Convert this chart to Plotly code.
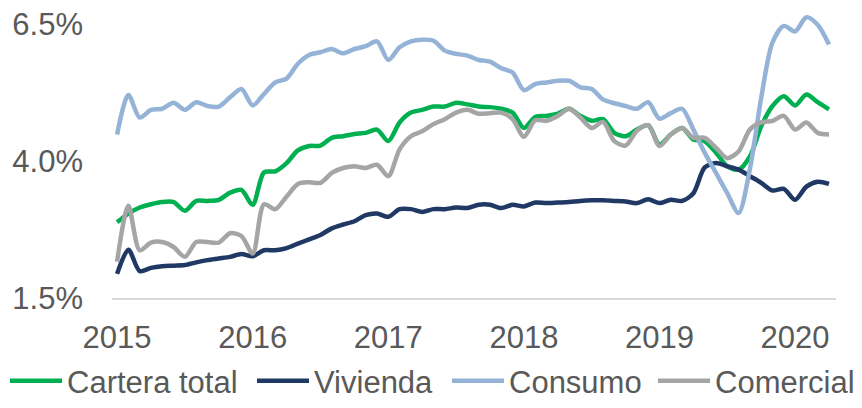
import plotly.graph_objects as go

# monthly, Jan 2015 - Apr 2020
months = [f"{y}-{m:02d}" for y in range(2015, 2021) for m in range(1, 13)][:64]
year_ticks = ["2015-01", "2016-01", "2017-01", "2018-01", "2019-01", "2020-01"]
year_labels = ["2015", "2016", "2017", "2018", "2019", "2020"]

cartera_total = [2.88, 3.04, 3.15, 3.21, 3.25, 3.25, 3.09, 3.27, 3.27, 3.29, 3.42, 3.47,
                 3.20, 3.79, 3.81, 3.96, 4.19, 4.27, 4.28, 4.42, 4.45, 4.49, 4.51, 4.57,
                 4.36, 4.70, 4.88, 4.93, 4.99, 4.99, 5.06, 5.03, 4.99, 4.98, 4.95, 4.88,
                 4.60, 4.80, 4.82, 4.86, 4.95, 4.82, 4.73, 4.76, 4.51, 4.45, 4.57, 4.65,
                 4.30, 4.48, 4.60, 4.39, 4.36, 4.15, 3.90, 3.84, 4.08, 4.63, 5.00, 5.18,
                 5.01, 5.21, 5.07, 4.94]
vivienda = [1.94, 2.38, 1.99, 2.05, 2.08, 2.09, 2.10, 2.15, 2.19, 2.22, 2.25, 2.30,
            2.26, 2.37, 2.37, 2.41, 2.49, 2.57, 2.65, 2.77, 2.84, 2.90, 3.01, 3.04,
            2.98, 3.12, 3.12, 3.07, 3.12, 3.12, 3.15, 3.14, 3.20, 3.20, 3.14, 3.20,
            3.17, 3.24, 3.23, 3.24, 3.25, 3.27, 3.28, 3.28, 3.27, 3.26, 3.23, 3.30,
            3.23, 3.29, 3.27, 3.41, 3.88, 3.96, 3.90, 3.84, 3.72, 3.60, 3.46, 3.49,
            3.29, 3.53, 3.62, 3.58]
consumo = [4.48, 5.20, 4.79, 4.93, 4.95, 5.06, 4.93, 5.07, 5.00, 4.99, 5.16, 5.31,
           5.01, 5.22, 5.43, 5.50, 5.77, 5.93, 5.98, 6.04, 5.96, 6.04, 6.09, 6.18,
           5.84, 6.07, 6.18, 6.21, 6.19, 6.01, 5.95, 5.92, 5.84, 5.81, 5.69, 5.61,
           5.29, 5.40, 5.43, 5.46, 5.46, 5.34, 5.31, 5.12, 5.05, 5.00, 4.95, 5.07,
           4.77, 4.87, 4.95, 4.57, 4.15, 3.78, 3.41, 3.05, 3.85, 5.15, 6.16, 6.46,
           6.36, 6.62, 6.48, 6.12]
comercial = [2.16, 3.18, 2.37, 2.51, 2.52, 2.43, 2.25, 2.52, 2.52, 2.51, 2.68, 2.63,
             2.31, 3.21, 3.12, 3.35, 3.58, 3.61, 3.60, 3.78, 3.87, 3.90, 3.87, 3.93,
             3.72, 4.21, 4.45, 4.54, 4.67, 4.76, 4.88, 4.93, 4.86, 4.87, 4.88, 4.76,
             4.44, 4.74, 4.73, 4.82, 4.95, 4.79, 4.60, 4.71, 4.36, 4.28, 4.55, 4.65,
             4.27, 4.48, 4.60, 4.42, 4.42, 4.24, 4.05, 4.17, 4.57, 4.70, 4.73, 4.82,
             4.57, 4.70, 4.51, 4.48]

series = [
    ("Cartera total", cartera_total, "#00B050", "legend"),
    ("Vivienda", vivienda, "#1F3864", "legend2"),
    ("Consumo", consumo, "#95B3D7", "legend3"),
    ("Comercial", comercial, "#A5A5A5", "legend4"),
]
# left edge of each legend entry, px from the left of the page
legend_left = [5, 252, 447, 653]

fig = go.Figure()
for name, vals, color, leg in series:
    fig.add_trace(go.Scatter(
        x=months, y=vals,
        mode="lines",
        name=name,
        legend=leg,
        showlegend=True,
        line=dict(color=color, width=4.5, shape="spline", smoothing=0.8),
    ))

legend_style = dict(
    orientation="h",
    xref="container", xanchor="left",
    yref="container", y=-0.025, yanchor="bottom",
    itemwidth=52,
    font=dict(size=31, color="#595959"),
    borderwidth=0,
    bgcolor="rgba(0,0,0,0)",
)
legends = {}
for (name, vals, color, leg), left in zip(series, legend_left):
    legends[leg] = dict(legend_style, x=left / 862)

fig.update_layout(
    width=862, height=408,
    margin=dict(l=112, r=26, t=4, b=110, autoexpand=False),
    plot_bgcolor="white",
    paper_bgcolor="white",
    font=dict(family="Liberation Sans, Arial", size=31, color="#595959"),
    showlegend=True,
    **legends,
)
fig.update_xaxes(
    type="category",
    range=[-0.45, 63.62],
    tickvals=year_ticks, ticktext=year_labels,
    showgrid=False, zeroline=False,
    showline=True, linecolor="#D9D9D9", linewidth=2,
    ticks="", ticklabelstandoff=11,
)
fig.update_yaxes(
    range=[1.5, 6.86],
    tickvals=[1.5, 4.0, 6.5], ticktext=["1.5%", "4.0%", "6.5%"],
    showgrid=False, zeroline=False, showline=False,
    ticks="", ticklabelstandoff=28,
)

fig.write_html(
    "out.html",
    config={"displayModeBar": False},
    post_script="document.body.style.margin='0';",
)
